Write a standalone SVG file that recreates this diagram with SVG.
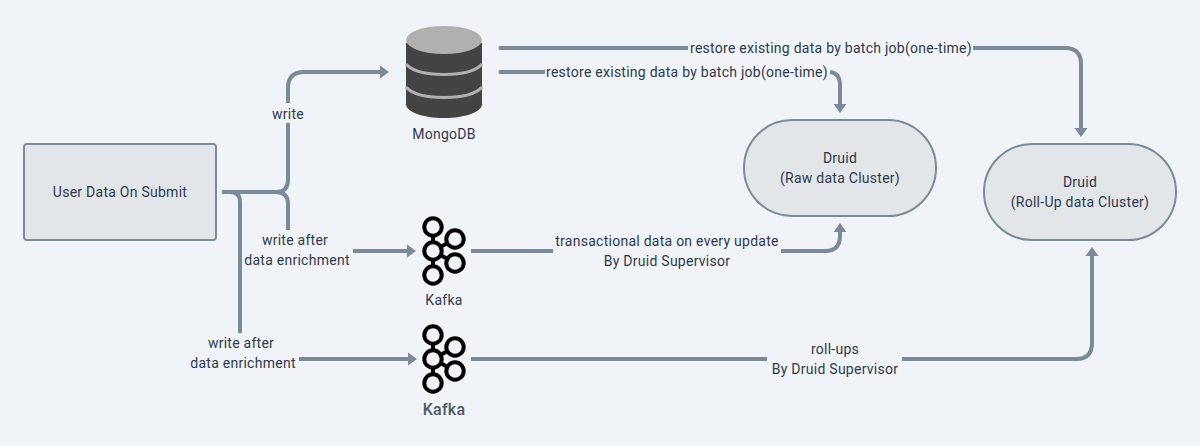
<svg xmlns="http://www.w3.org/2000/svg" width="1200" height="446" viewBox="0 0 1200 446">
<style>
text{font-family:"Roboto","Liberation Sans",sans-serif;font-size:14px;fill:#2d3a4a;text-anchor:middle;letter-spacing:.26px}
.n{fill:#e3e6e9;stroke:#7b8a99;stroke-width:2}
.c{fill:none;stroke:#7b8a99;stroke-width:4}
.a{fill:#7b8a99}
.k{fill:#f0f4f8;stroke:#000;stroke-width:4}
.s{stroke:#000;stroke-width:4}
</style>
<defs>
<g id="kafka">
<path class="s" d="M433 227V275M433 251L455 239M433 251L455 263"/>
<circle class="k" cx="433" cy="227" r="8.7"/>
<circle class="k" cx="433" cy="251" r="8.7"/>
<circle class="k" cx="433" cy="275" r="8.7"/>
<circle class="k" cx="455" cy="239" r="8.7"/>
<circle class="k" cx="455" cy="263" r="8.7"/>
</g>
</defs>
<rect width="1200" height="446" fill="#f0f4f8"/>
<g id="connectors">
<path class="c" d="M222 192H276Q288 192 288 180V123M288 103V88Q288 72 304 72H381"/>
<path class="a" d="M389 72L380 65.500V78.500Z"/>
<path class="c" d="M276 192Q288 192 288 204V230"/>
<path class="c" d="M230 192Q240 192 240 202V333"/>
<path class="c" d="M353 251H408"/>
<path class="a" d="M416 251L407 244.500V257.500Z"/>
<path class="c" d="M299 359H409"/>
<path class="a" d="M417 359L408 352.500V365.500Z"/>
<path class="c" d="M499 48H688M973 48H1065Q1081 48 1081 64V129"/>
<path class="a" d="M1081 137L1074.500 128H1087.500Z"/>
<path class="c" d="M499 72H545M830 72Q840 73 840 85V105"/>
<path class="a" d="M840 113L833.500 104H846.500Z"/>
<path class="c" d="M471 251H553M781 251H825Q840 251 840 236V231"/>
<path class="a" d="M840 223L833.500 232H846.500Z"/>
<path class="c" d="M471 359H767M902 359H1076Q1092 359 1092 343V255"/>
<path class="a" d="M1092 247L1085.500 256H1098.500Z"/>
</g>
<g id="user"><rect class="n" x="24" y="144" width="192" height="96" rx="3"/><text x="120" y="197">User Data On Submit</text></g>
<g id="mongodb">
<path fill="#434343" d="M406 43V104C406 112 423 118 444 118S482 112 482 104V43Z"/>
<ellipse cx="444" cy="40" rx="38" ry="14" fill="#b0b0b0"/>
<path fill="none" stroke="#b0b0b0" stroke-width="3" d="M406 64C412 71 426 74.500 444 74.500S476 71 482 64M406 87C412 94 426 97.500 444 97.500S476 94 482 87"/>
<text x="444" y="139">MongoDB</text>
</g>
<g id="druid-raw"><rect class="n" x="744" y="120" width="192" height="96" rx="48"/><text x="840" y="163">Druid</text><text x="840" y="183">(Raw data Cluster)</text></g>
<g id="druid-rollup"><rect class="n" x="984" y="144" width="192" height="96" rx="48"/><text x="1080" y="187">Druid</text><text x="1080" y="207">(Roll-Up data Cluster)</text></g>
<g id="kafka-1"><use href="#kafka"/><text x="444" y="305">Kafka</text></g>
<g id="kafka-2"><use href="#kafka" y="108"/><text x="444" y="415" style="font-size:16px;font-weight:500;fill:#4b5a68">Kafka</text></g>
<g id="labels">
<text x="288" y="119">write</text>
<text x="295" y="245">write after</text><text x="297" y="265">data enrichment</text>
<text x="241" y="348">write after</text><text x="243" y="368">data enrichment</text>
<text x="831" y="53">restore existing data by batch job(one-time)</text>
<text x="687" y="77">restore existing data by batch job(one-time)</text>
<text x="667" y="246">transactional data on every update</text><text x="667" y="266">By Druid Supervisor</text>
<text x="835" y="354">roll-ups</text><text x="835" y="374">By Druid Supervisor</text>
</g>
</svg>
